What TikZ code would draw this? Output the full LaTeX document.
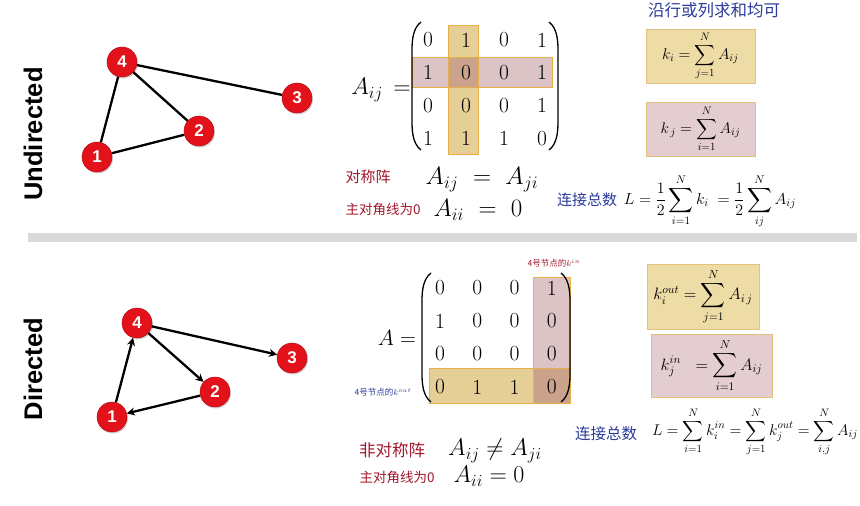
\documentclass[tikz,border=0pt]{standalone}
\usepackage{fix-cm}
\usepackage{amsmath}
\usepackage{fontspec}
\newfontfamily\cjk{Noto Sans CJK SC}
\newfontfamily\hv{Liberation Sans}
\usetikzlibrary{arrows.meta,shadows}
\definecolor{nodered}{HTML}{E3121A}
\definecolor{tanfill}{HTML}{E6CE97}
\definecolor{pinkfill}{HTML}{DCC3C6}
\definecolor{overlapfill}{HTML}{CBA28C}
\definecolor{hlborder}{HTML}{E8AE4A}
\definecolor{boxyellow}{HTML}{EEDCA6}
\definecolor{boxpink}{HTML}{E4CDD1}
\definecolor{boxborder}{HTML}{E2C27A}
\definecolor{inkred}{HTML}{A3162A}
\definecolor{inkblue}{HTML}{2B3C9C}
\definecolor{bargray}{HTML}{D9D9D9}
\tikzset{
  vtx/.style={circle, fill=nodered, draw=nodered!80!black, line width=0.5pt,
    minimum size=30pt, inner sep=0pt, text=white,
    font=\hv\bfseries\fontsize{17}{17}\selectfont,
    drop shadow={opacity=0.35, shadow xshift=1pt, shadow yshift=-1.5pt}},
  uedge/.style={line width=2.3pt},
  dedge/.style={line width=2.3pt, -{Stealth[length=8pt,width=8pt]}},
  sidelabel/.style={rotate=90, font=\hv\bfseries\fontsize{25.5}{25.5}\selectfont, inner sep=0pt},
  digit/.style={font=\fontsize{21.5}{21.5}\selectfont, inner sep=0pt},
  hlbox/.style={draw=hlborder, line width=0.8pt},
  fbox/.style={draw=boxborder, line width=0.6pt, inner sep=0pt,
    drop shadow={opacity=0.2, shadow xshift=0.8pt, shadow yshift=-1.2pt}},
  redink/.style={text=inkred, font=\cjk\fontsize{15}{15}\selectfont, inner sep=0pt},
  blueink/.style={text=inkblue, font=\cjk\fontsize{15}{15}\selectfont, inner sep=0pt},
  eq/.style={inner sep=0pt},
  paren/.style={line width=1.3pt}
}
\begin{document}
\begin{tikzpicture}[x=1pt,y=-1pt]
\useasboundingbox (0,0) rectangle (860,506);
\fill[white] (0,0) rectangle (860,506);

% separator bar
\fill[bargray] (28,233) rectangle (857,242);

% side labels
\node[sidelabel] (lu) at (33,134) {Undirected};
\node[sidelabel] (ld) at (33,369) {Directed};

% ---------- Undirected graph ----------
\node[vtx] (u4) at (122,62) {4};
\node[vtx] (u3) at (297,98) {3};
\node[vtx] (u2) at (199,131) {2};
\node[vtx] (u1) at (97,157) {1};
\draw[uedge] (u4) -- (u3);
\draw[uedge] (u4) -- (u2);
\draw[uedge] (u4) -- (u1);
\draw[uedge] (u1) -- (u2);

% ---------- Directed graph ----------
\node[vtx] (d4) at (137,323) {4};
\node[vtx] (d3) at (292,358) {3};
\node[vtx] (d2) at (215,392) {2};
\node[vtx] (d1) at (112,417) {1};
\draw[dedge] (d1) -- (d4);
\draw[dedge] (d4) -- (d2);
\draw[dedge] (d4) -- (d3);
\draw[dedge] (d2) -- (d1);

% ---------- Upper matrix ----------
\fill[tanfill] (448,25) rectangle (478,154);
\fill[pinkfill] (412,57) rectangle (552,87);
\fill[overlapfill] (448,57) rectangle (478,87);
\draw[hlbox] (448,25) rectangle (478,154);
\draw[hlbox] (412,57) rectangle (552,87);

\node[eq, font=\fontsize{24}{24}\selectfont] (Au) at (381,90) {$A_{ij}\,=$};
\foreach \row [count=\r] in {{0,1,0,1},{1,0,0,1},{0,0,0,1},{1,1,1,0}} {
  \foreach \v [count=\c] in \row {
    \pgfmathsetmacro{\xx}{428+(\c-1)*38}
    \pgfmathsetmacro{\yy}{40+(\r-1)*32.7}
    \node[digit] (u\r\c) at (\xx,\yy) {\v};
  }
}
\draw[paren] (421,22) .. controls (413,28) and (412,40) .. (412,50) -- (412,122) .. controls (412,132) and (413,144) .. (421,150);
\draw[paren] (549,22) .. controls (557,28) and (558,40) .. (558,50) -- (558,122) .. controls (558,132) and (557,144) .. (549,150);

\node[redink] (sym) at (368,177) {对称阵};
\node[redink, font=\cjk\fontsize{13.5}{13.5}\selectfont] (diagu) at (383,209) {主对角线为0};
\node[eq, font=\fontsize{25}{25}\selectfont] (symeq) at (482,180) {$A_{ij}\ =\ A_{ji}$};
\node[eq, font=\fontsize{25}{25}\selectfont] (diageq) at (478,210) {$A_{ii}\ =\ 0$};

% upper right
\node[blueink, font=\cjk\fontsize{16.5}{16.5}\selectfont] (rowcol) at (714,10) {沿行或列求和均可};
\node[fbox, fill=boxyellow, minimum width=109pt, minimum height=54pt] (b1) at (700.5,56)
  {\fontsize{15.5}{15.5}\selectfont$\displaystyle k_i = \sum_{j=1}^{N} A_{ij}$};
\node[fbox, fill=boxpink, minimum width=109pt, minimum height=54pt] (b2) at (700.5,129)
  {\fontsize{15.5}{15.5}\selectfont$\displaystyle k_{\,j} = \sum_{i=1}^{N} A_{ij}$};
\node[blueink] (Lu) at (587,200) {连接总数};
\node[eq, font=\fontsize{16}{16}\selectfont] (Lueq) at (710,201)
  {$\displaystyle L=\frac{1}{2}\sum_{i=1}^{N}k_i \;=\frac{1}{2}\sum_{ij}^{N}A_{ij}$};

% ---------- Lower matrix ----------
\fill[pinkfill] (533,277) rectangle (570,403);
\fill[tanfill] (429,368) rectangle (570,403);
\fill[overlapfill] (533,368) rectangle (570,403);
\draw[hlbox] (533,277) rectangle (570,403);
\draw[hlbox] (429,368) rectangle (570,403);

\node[eq, font=\fontsize{22}{22}\selectfont] (Ad) at (397,338) {$A=$};
\foreach \row [count=\r] in {{0,0,0,1},{1,0,0,0},{0,0,0,0},{0,1,1,0}} {
  \foreach \v [count=\c] in \row {
    \pgfmathsetmacro{\xx}{440+(\c-1)*37.3}
    \pgfmathsetmacro{\yy}{288+(\r-1)*33}
    \node[digit] (d\r\c) at (\xx,\yy) {\v};
  }
}
\draw[paren] (431,273) .. controls (423,279) and (422,291) .. (422,301) -- (422,374) .. controls (422,384) and (423,396) .. (431,402);
\draw[paren] (561,273) .. controls (569,279) and (570,291) .. (570,301) -- (570,374) .. controls (570,384) and (569,396) .. (561,402);

\node[redink, font=\cjk\fontsize{8.5}{8.5}\selectfont] (kin4) at (554,263) {4号节点的$k^{in}$};
\node[blueink, font=\cjk\fontsize{8.5}{8.5}\selectfont] (kout4) at (383,392) {4号节点的$k^{out}$};

\node[redink, font=\cjk\fontsize{16.5}{16.5}\selectfont] (asym) at (392,450) {非对称阵};
\node[redink, font=\cjk\fontsize{13.5}{13.5}\selectfont] (diagd) at (397,477) {主对角线为0};
\node[eq, font=\fontsize{24}{24}\selectfont] (asymeq) at (495,451) {$A_{ij}\neq A_{ji}$};
\node[eq, font=\fontsize{24}{24}\selectfont] (diageqd) at (489,476) {$A_{ii}=0$};

% lower right
\node[fbox, fill=boxyellow, minimum width=112pt, minimum height=65pt] (b3) at (703,296.5)
  {\fontsize{16.5}{16.5}\selectfont$\displaystyle k_i^{out} = \sum_{j=1}^{N} A_{i\,j}$};
\node[fbox, fill=boxpink, minimum width=121pt, minimum height=63pt] (b4) at (711.5,365.5)
  {\fontsize{16.5}{16.5}\selectfont$\displaystyle k_j^{in}\ \ = \sum_{i=1}^{N} A_{ij}$};
\node[blueink, font=\cjk\fontsize{15.5}{15.5}\selectfont] (Ld) at (606,434) {连接总数};
\node[eq, font=\fontsize{15.5}{15.5}\selectfont] (Ldeq) at (755,432)
  {$\displaystyle L=\sum_{i=1}^{N}k_i^{in}=\sum_{j=1}^{N}k_j^{out}=\sum_{i,j}^{N}A_{ij}$};
\end{tikzpicture}
\end{document}
